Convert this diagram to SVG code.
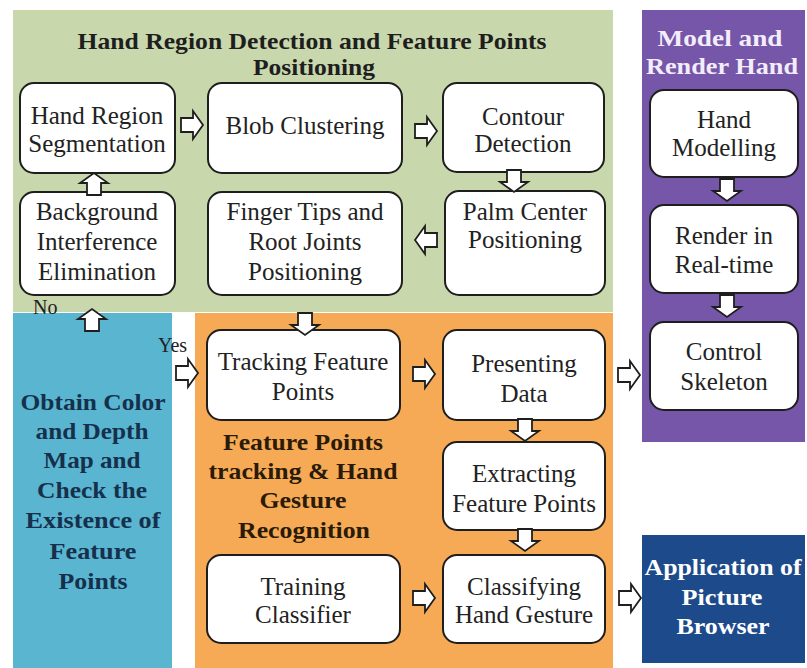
<svg xmlns="http://www.w3.org/2000/svg" width="807" height="668" viewBox="0 0 807 668" font-family="'Liberation Serif', 'Times New Roman', serif">
<style>
.node rect{fill:#fff;stroke:#1e1e1e;stroke-width:2}
.nt{font-family:'Liberation Serif','Times New Roman',serif;font-size:25px;fill:#222;text-anchor:middle}
.bt{font-family:'Liberation Serif','Times New Roman',serif;font-weight:bold;font-size:23px;text-anchor:middle}
.lbl{font-family:'Liberation Serif','Times New Roman',serif;font-size:20px;fill:#222}
.arr{fill:#fff;stroke:#1e1e1e;stroke-width:1.8;stroke-linejoin:miter}
</style>
<defs>
<path id="ar" class="arr" d="M-11,-7 H1 V-14 L11,0 L1,14 V7 H-11 Z"/>
</defs>
<rect width="807" height="668" fill="#fff"/>
<g id="panels">
<rect x="13" y="10" width="600" height="302" fill="#c9d7ad"/>
<rect x="13" y="313" width="159" height="355" fill="#5ab5d1"/>
<rect x="195" y="313" width="418" height="355" fill="#f6aa56"/>
<rect x="642" y="10" width="163" height="432" fill="#7556a8"/>
<rect x="642" y="535" width="163" height="128" fill="#1d4a8a"/>
</g>
<g id="titles">
<text class="bt" fill="#1e1e1e" x="312" y="49" textLength="469" lengthAdjust="spacingAndGlyphs">Hand Region Detection and Feature Points</text>
<text class="bt" fill="#1e1e1e" x="314" y="75" textLength="122" lengthAdjust="spacingAndGlyphs">Positioning</text>
<text class="bt" fill="#f3ecfa" x="720" y="46" textLength="125" lengthAdjust="spacingAndGlyphs">Model and</text>
<text class="bt" fill="#f3ecfa" x="722" y="74" textLength="152" lengthAdjust="spacingAndGlyphs">Render Hand</text>
<g fill="#16304c">
<text class="bt" x="93" y="410" textLength="145" lengthAdjust="spacingAndGlyphs">Obtain Color</text>
<text class="bt" x="92" y="439" textLength="113" lengthAdjust="spacingAndGlyphs">and Depth</text>
<text class="bt" x="92" y="468" textLength="97" lengthAdjust="spacingAndGlyphs">Map and</text>
<text class="bt" x="92" y="498" textLength="110" lengthAdjust="spacingAndGlyphs">Check the</text>
<text class="bt" x="93" y="528" textLength="135" lengthAdjust="spacingAndGlyphs">Existence of</text>
<text class="bt" x="93" y="559" textLength="87" lengthAdjust="spacingAndGlyphs">Feature</text>
<text class="bt" x="93" y="589" textLength="69" lengthAdjust="spacingAndGlyphs">Points</text>
</g>
<g fill="#2a1a08">
<text class="bt" x="303" y="450" textLength="160" lengthAdjust="spacingAndGlyphs">Feature Points</text>
<text class="bt" x="303" y="479" textLength="189" lengthAdjust="spacingAndGlyphs">tracking &amp; Hand</text>
<text class="bt" x="303" y="508" textLength="87" lengthAdjust="spacingAndGlyphs">Gesture</text>
<text class="bt" x="304" y="538" textLength="132" lengthAdjust="spacingAndGlyphs">Recognition</text>
</g>
<g fill="#ffffff">
<text class="bt" x="723" y="575" textLength="157" lengthAdjust="spacingAndGlyphs">Application of</text>
<text class="bt" x="722" y="605" textLength="81" lengthAdjust="spacingAndGlyphs">Picture</text>
<text class="bt" x="723" y="634" textLength="93" lengthAdjust="spacingAndGlyphs">Browser</text>
</g>
<text class="lbl" x="33" y="314">No</text>
<text class="lbl" x="158" y="352">Yes</text>
</g>
<g id="n_hrs" class="node"><rect x="20" y="83" width="155" height="90" rx="14"/><text class="nt" x="97" y="124">Hand Region</text><text class="nt" x="97" y="152">Segmentation</text></g>
<g id="n_blob" class="node"><rect x="208" y="83" width="194" height="90" rx="14"/><text class="nt" x="305" y="134">Blob Clustering</text></g>
<g id="n_contour" class="node"><rect x="443" y="83" width="161" height="89" rx="14"/><text class="nt" x="523" y="125">Contour</text><text class="nt" x="523" y="152">Detection</text></g>
<g id="n_bie" class="node"><rect x="20" y="192" width="155" height="103" rx="14"/><text class="nt" x="97" y="220">Background</text><text class="nt" x="97" y="250">Interference</text><text class="nt" x="97" y="280">Elimination</text></g>
<g id="n_finger" class="node"><rect x="208" y="192" width="194" height="103" rx="14"/><text class="nt" x="305" y="220">Finger Tips and</text><text class="nt" x="305" y="250">Root Joints</text><text class="nt" x="305" y="280">Positioning</text></g>
<g id="n_palm" class="node"><rect x="445" y="191" width="160" height="104" rx="14"/><text class="nt" x="525" y="220">Palm Center</text><text class="nt" x="525" y="248">Positioning</text></g>
<g id="n_model" class="node"><rect x="650" y="90" width="148" height="87" rx="14"/><text class="nt" x="724" y="128">Hand</text><text class="nt" x="724" y="156">Modelling</text></g>
<g id="n_render" class="node"><rect x="650" y="205" width="148" height="88" rx="14"/><text class="nt" x="724" y="244">Render in</text><text class="nt" x="724" y="273">Real-time</text></g>
<g id="n_control" class="node"><rect x="650" y="322" width="148" height="88" rx="14"/><text class="nt" x="724" y="360">Control</text><text class="nt" x="724" y="390">Skeleton</text></g>
<g id="n_tracking" class="node"><rect x="207" y="330" width="193" height="90" rx="14"/><text class="nt" x="303" y="370">Tracking Feature</text><text class="nt" x="303" y="400">Points</text></g>
<g id="n_present" class="node"><rect x="443" y="330" width="162" height="90" rx="14"/><text class="nt" x="524" y="372">Presenting</text><text class="nt" x="524" y="402">Data</text></g>
<g id="n_extract" class="node"><rect x="443" y="442" width="162" height="88" rx="14"/><text class="nt" x="524" y="482">Extracting</text><text class="nt" x="524" y="512">Feature Points</text></g>
<g id="n_training" class="node"><rect x="207" y="555" width="193" height="88" rx="14"/><text class="nt" x="303" y="595">Training</text><text class="nt" x="303" y="623">Classifier</text></g>
<g id="n_classify" class="node"><rect x="443" y="555" width="162" height="88" rx="14"/><text class="nt" x="524" y="595">Classifying</text><text class="nt" x="524" y="623">Hand Gesture</text></g>
<g id="connectors">
<use href="#ar" transform="translate(192,125)"/>
<use href="#ar" transform="translate(426,131)"/>
<use href="#ar" transform="translate(514,181) rotate(90)"/>
<use href="#ar" transform="translate(426,240) rotate(180)"/>
<use href="#ar" transform="translate(94,184) rotate(-90)"/>
<use href="#ar" transform="translate(92,320) rotate(-90)"/>
<use href="#ar" transform="translate(305,324) rotate(90)"/>
<use href="#ar" transform="translate(187,373)"/>
<use href="#ar" transform="translate(424,374)"/>
<use href="#ar" transform="translate(629,375)"/>
<use href="#ar" transform="translate(525,430) rotate(90)"/>
<use href="#ar" transform="translate(525,540) rotate(90)"/>
<use href="#ar" transform="translate(424,598)"/>
<use href="#ar" transform="translate(630,598)"/>
<use href="#ar" transform="translate(727,190) rotate(90)"/>
<use href="#ar" transform="translate(727,306) rotate(90)"/>
</g>
</svg>
